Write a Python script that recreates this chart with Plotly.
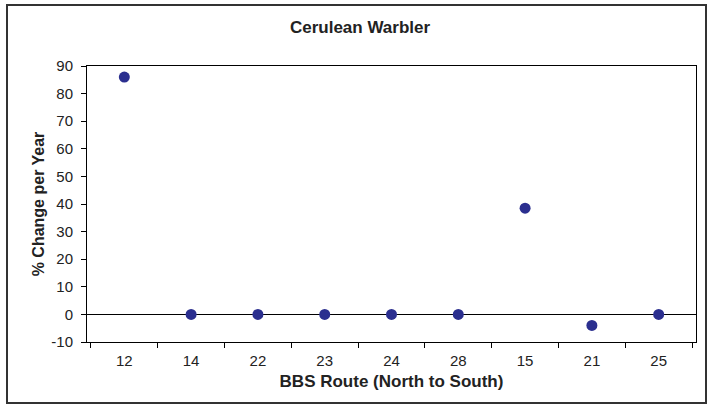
import plotly.graph_objects as go

routes = ["12", "14", "22", "23", "24", "28", "15", "21", "25"]
pct_change = [86, 0, 0, 0, 0, 0, 38.5, -4, 0]
y_ticks = [-10, 0, 10, 20, 30, 40, 50, 60, 70, 80, 90]
y_tick_text = ["-10", "0", "10", "20", "30", "40", "50", "60", "70", "80", "90"]

W, H = 712, 408
L, R, T, B = 87, 16, 66, 66
pw, ph = W - L - R, H - T - B

fig = go.Figure(go.Scatter(
    x=routes, y=pct_change, mode="markers",
    marker=dict(color="#2B2F8F", size=11, line=dict(width=0)),
    showlegend=False,
))

font = "Liberation Sans, Arial, sans-serif"
fig.update_layout(
    width=W, height=H,
    margin=dict(l=L, r=R, t=T, b=B, autoexpand=False),
    paper_bgcolor="white", plot_bgcolor="white",
    font=dict(family=font, size=15, color="#222"),
    title=dict(text="<b>Cerulean Warbler</b>", x=360/W, xanchor="center",
               y=1 - 27/H, yanchor="middle", font=dict(size=17, color="#222")),
    xaxis=dict(type="category", categoryorder="array", categoryarray=routes,
               showline=True, linecolor="black", linewidth=1, mirror=True,
               ticks="outside", tickson="boundaries", ticklen=5, tickcolor="black",
               showgrid=False, zeroline=False, automargin=False,
               tickfont=dict(size=15), ticklabelstandoff=5,
               title=dict(text="<b>BBS Route (North to South)</b>", standoff=7,
                          font=dict(size=17, color="#222"))),
    yaxis=dict(range=[-10, 90], tickvals=y_ticks, ticktext=y_tick_text,
               showline=True, linecolor="black", linewidth=1, mirror=True,
               ticks="outside", ticklen=5, tickcolor="black",
               showgrid=False, zeroline=True, zerolinecolor="black", zerolinewidth=1,
               automargin=False, tickfont=dict(size=15), ticklabelstandoff=5,
               title=dict(text="<b>% Change per Year</b>", standoff=2,
                          font=dict(size=16, color="#222"))),
)

fig.add_shape(type="rect", xref="paper", yref="paper",
              x0=(7 - L)/pw, x1=(706 - L)/pw,
              y0=(H - B - 403)/ph, y1=(H - B - 5)/ph,
              line=dict(color="#333", width=2), fillcolor="rgba(0,0,0,0)", layer="above")

fig.write_html("out.html", config={"displayModeBar": False},
               post_script="document.body.style.margin='0';document.body.style.padding='0';")
